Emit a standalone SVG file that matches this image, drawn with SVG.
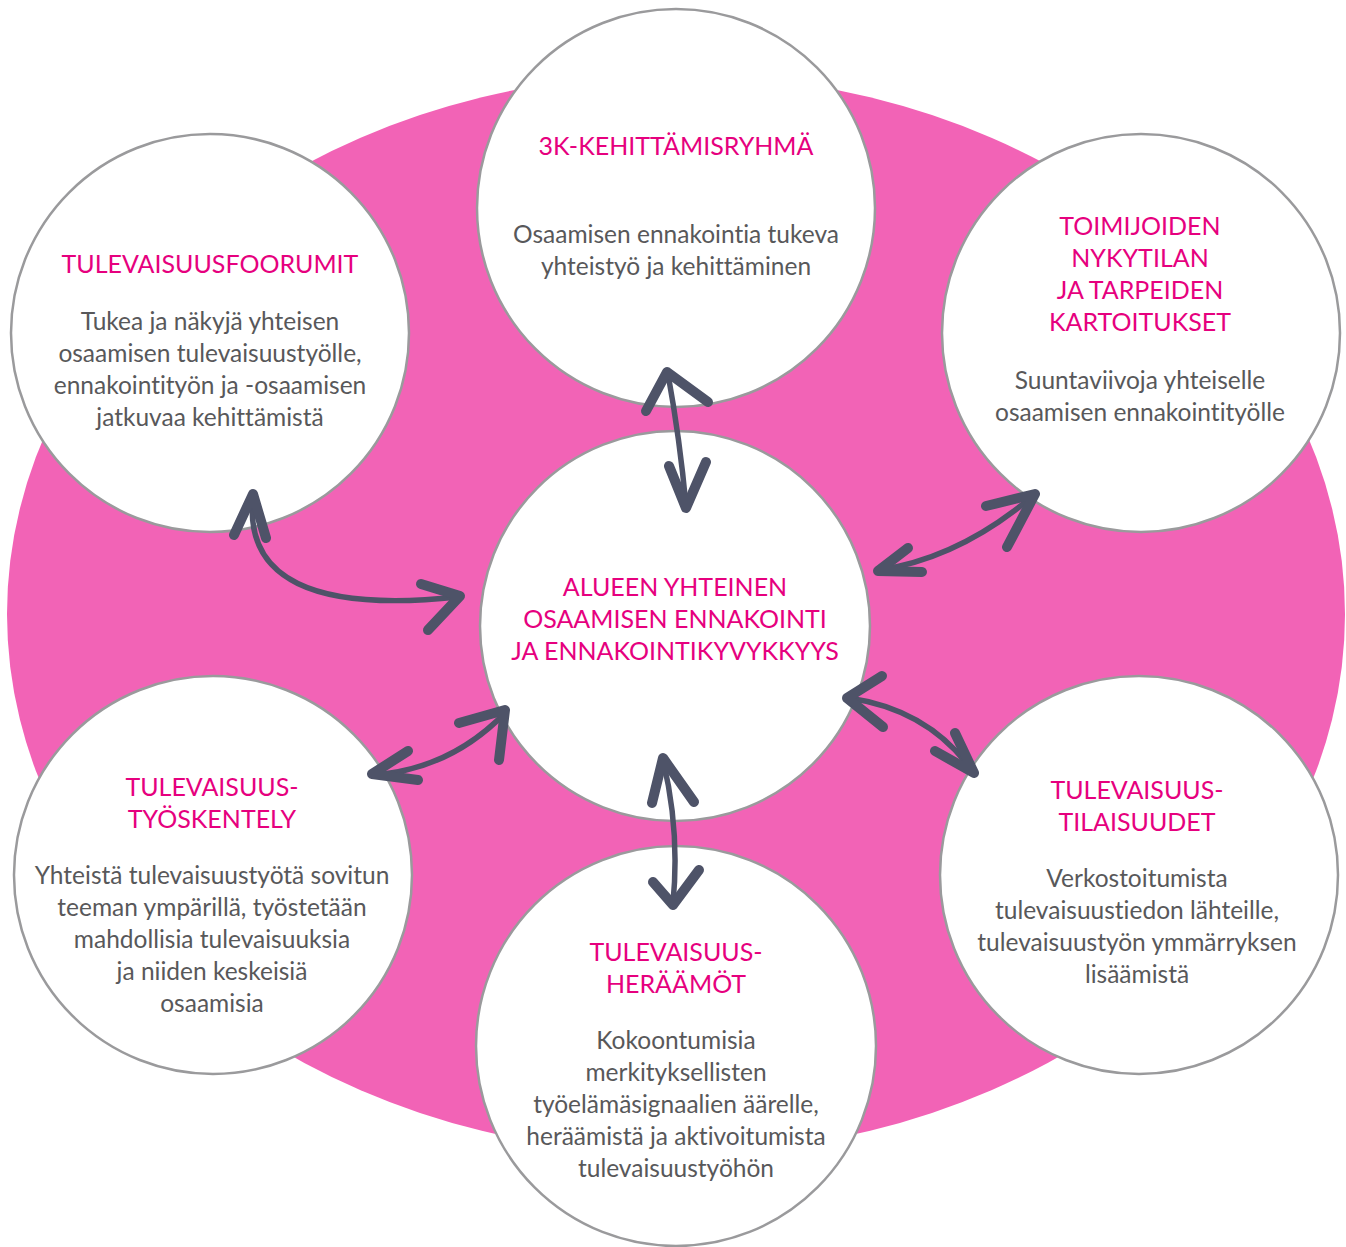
<svg xmlns="http://www.w3.org/2000/svg" width="1346" height="1247" viewBox="0 0 1346 1247">
<style>
.bg{fill:#f263b6}
.c{fill:#fff;stroke:#9a9a9c;stroke-width:2.5}
.t{font-family:Lato,"Open Sans",sans-serif;font-size:25px;fill:#e6007e;text-anchor:middle;font-variant-ligatures:none}
.b{font-family:Lato,"Open Sans",sans-serif;font-size:24.5px;fill:#58585a;text-anchor:middle;font-variant-ligatures:none}
.ln{fill:none;stroke:#4e5368;stroke-width:5.5;stroke-linecap:round}
.hd{fill:none;stroke:#4e5368;stroke-width:10;stroke-linecap:round;stroke-linejoin:round}
</style>
<rect width="1346" height="1247" fill="#fff"/>
<ellipse class="bg" cx="676" cy="614" rx="669" ry="540"/>
<g id="node-top"><circle class="c" cx="676" cy="208" r="199"/>
<text class="t" x="676" y="155">3K-KEHITTÄMISRYHMÄ</text>
<text class="b" x="676" y="243">Osaamisen ennakointia tukeva</text>
<text class="b" x="676" y="275">yhteistyö ja kehittäminen</text></g>
<g id="node-topleft"><circle class="c" cx="210" cy="333" r="199"/>
<text class="t" x="210" y="273">TULEVAISUUSFOORUMIT</text>
<text class="b" x="210" y="330">Tukea ja näkyjä yhteisen</text>
<text class="b" x="210" y="362">osaamisen tulevaisuustyölle,</text>
<text class="b" x="210" y="394">ennakointityön ja -osaamisen</text>
<text class="b" x="210" y="426">jatkuvaa kehittämistä</text></g>
<g id="node-topright"><circle class="c" cx="1141" cy="333" r="199"/>
<text class="t" x="1140" y="235">TOIMIJOIDEN</text>
<text class="t" x="1140" y="267">NYKYTILAN</text>
<text class="t" x="1140" y="299">JA TARPEIDEN</text>
<text class="t" x="1140" y="331">KARTOITUKSET</text>
<text class="b" x="1140" y="389">Suuntaviivoja yhteiselle</text>
<text class="b" x="1140" y="421">osaamisen ennakointityölle</text></g>
<g id="node-bottomleft"><circle class="c" cx="213" cy="875" r="199"/>
<text class="t" x="212" y="796">TULEVAISUUS-</text>
<text class="t" x="212" y="828">TYÖSKENTELY</text>
<text class="b" x="212" y="884">Yhteistä tulevaisuustyötä sovitun</text>
<text class="b" x="212" y="916">teeman ympärillä, työstetään</text>
<text class="b" x="212" y="948">mahdollisia tulevaisuuksia</text>
<text class="b" x="212" y="980">ja niiden keskeisiä</text>
<text class="b" x="212" y="1012">osaamisia</text></g>
<g id="node-bottomright"><circle class="c" cx="1139" cy="875" r="199"/>
<text class="t" x="1137" y="799">TULEVAISUUS-</text>
<text class="t" x="1137" y="831">TILAISUUDET</text>
<text class="b" x="1137" y="887">Verkostoitumista</text>
<text class="b" x="1137" y="919">tulevaisuustiedon lähteille,</text>
<text class="b" x="1137" y="951">tulevaisuustyön ymmärryksen</text>
<text class="b" x="1137" y="983">lisäämistä</text></g>
<g id="node-bottom"><circle class="c" cx="676" cy="1046" r="200"/>
<text class="t" x="676" y="961">TULEVAISUUS-</text>
<text class="t" x="676" y="993">HERÄÄMÖT</text>
<text class="b" x="676" y="1049">Kokoontumisia</text>
<text class="b" x="676" y="1081">merkityksellisten</text>
<text class="b" x="676" y="1113">työelämäsignaalien äärelle,</text>
<text class="b" x="676" y="1145">heräämistä ja aktivoitumista</text>
<text class="b" x="676" y="1177">tulevaisuustyöhön</text></g>
<g id="node-center"><circle class="c" cx="675" cy="626" r="195"/>
<text class="t" x="675" y="596">ALUEEN YHTEINEN</text>
<text class="t" x="675" y="628">OSAAMISEN ENNAKOINTI</text>
<text class="t" x="675" y="660">JA ENNAKOINTIKYVYKKYYS</text></g>
<g id="connectors">
<path class="ln" d="M668,374 Q680,440 686,506"/>
<path class="hd" d="M646,411 L667,372 L708,402"/>
<path class="hd" d="M669,466 L686,508 L706,462"/>
<path class="ln" d="M879,570 Q960,558 1034,495"/>
<path class="hd" d="M986,506 L1035,494 L1007,547"/>
<path class="hd" d="M908,548 L878,571 L922,572"/>
<path class="ln" d="M253,497 Q240,620 458,597"/>
<path class="hd" d="M234,535 L253,494 L266,538"/>
<path class="hd" d="M421,584 L460,596 L428,630"/>
<path class="ln" d="M372,775 Q450,770 506,712"/>
<path class="hd" d="M408,751 L372,774 L418,780"/>
<path class="hd" d="M459,723 L505,710 L499,760"/>
<path class="ln" d="M849,698 Q930,710 973,772"/>
<path class="hd" d="M882,676 L847,698 L883,727"/>
<path class="hd" d="M935,751 L974,773 L955,733"/>
<path class="ln" d="M663,760 Q680,830 673,903"/>
<path class="hd" d="M652,803 L663,758 L694,802"/>
<path class="hd" d="M653,882 L673,905 L699,870"/>
</g>
</svg>
